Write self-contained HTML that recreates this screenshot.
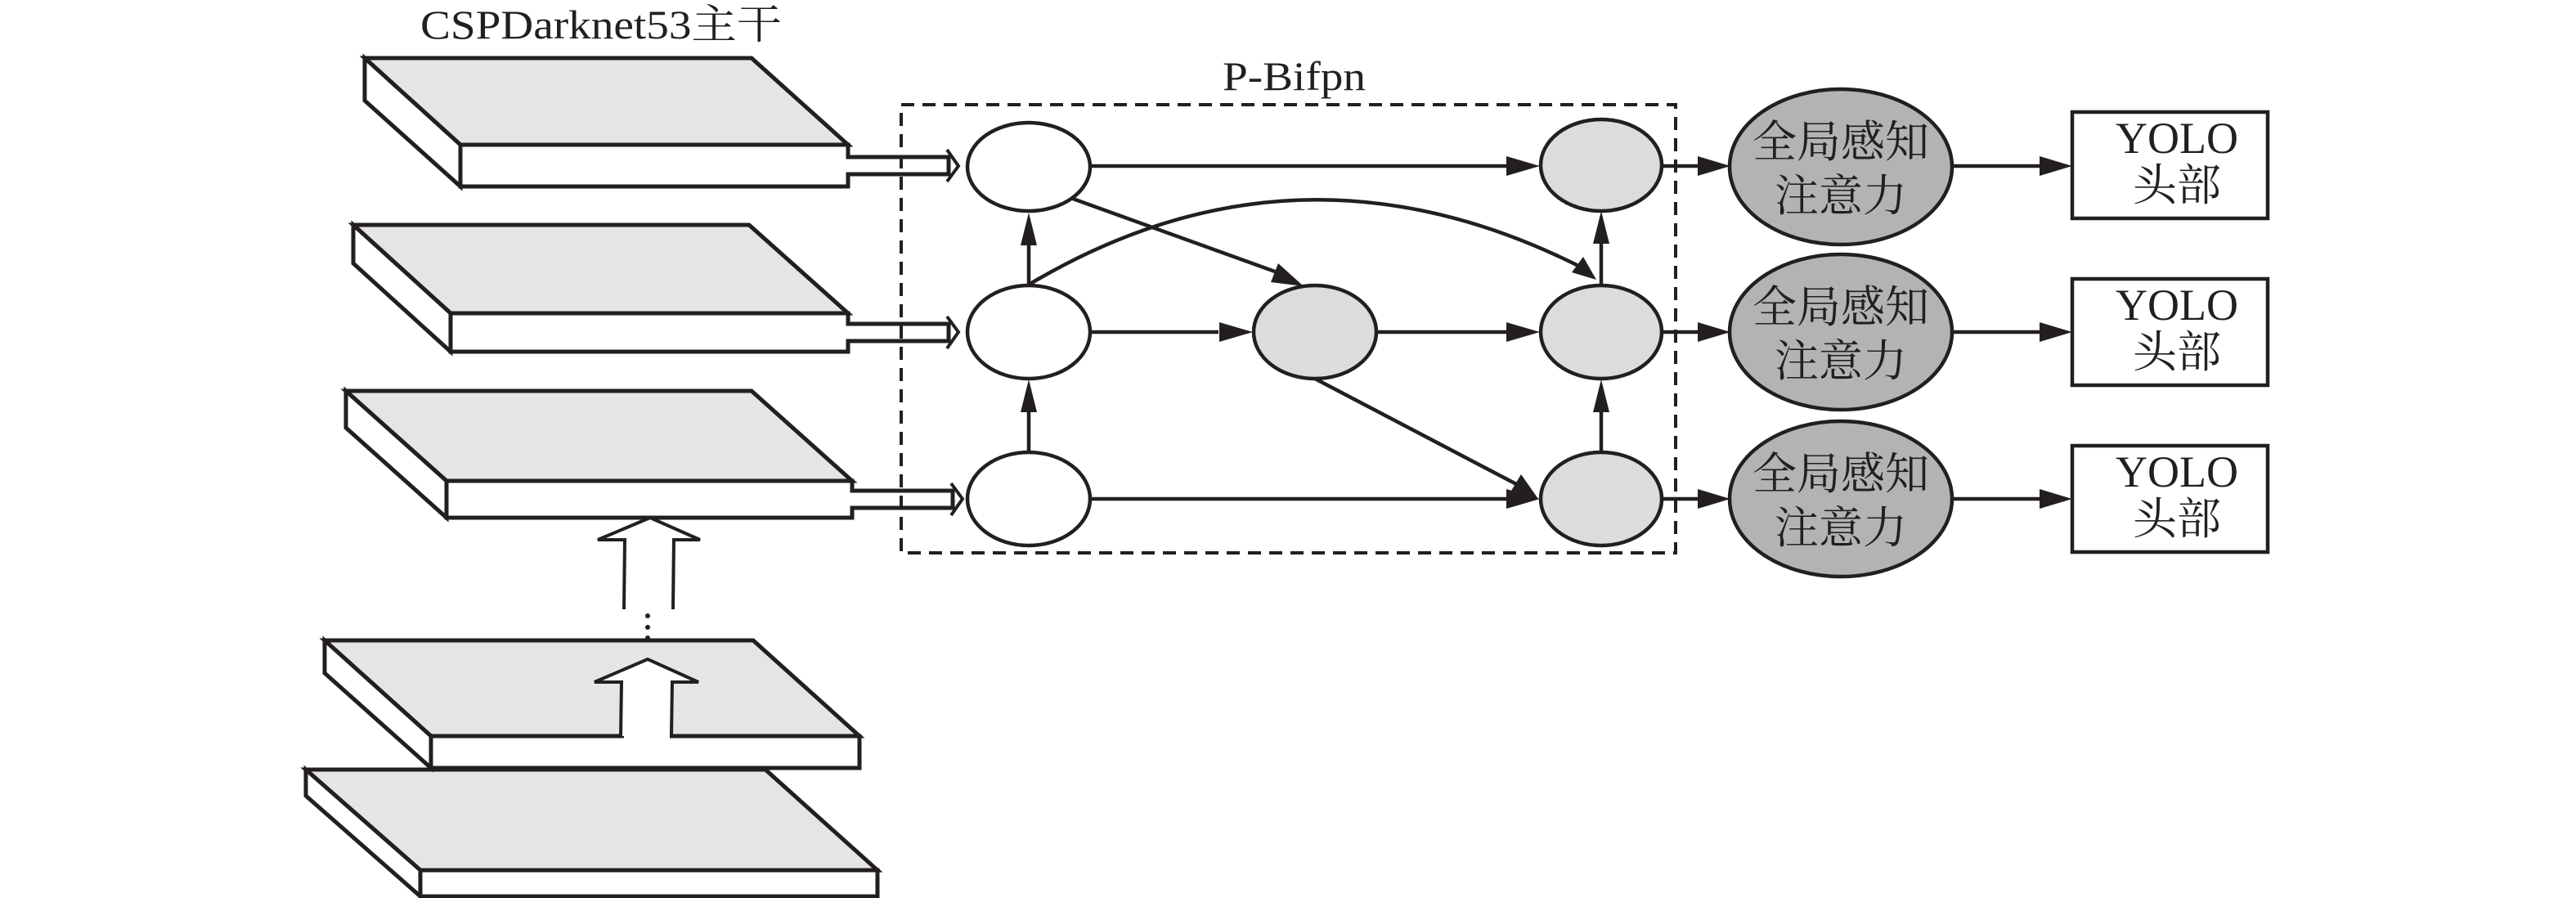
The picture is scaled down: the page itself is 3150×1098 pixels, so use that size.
<!DOCTYPE html>
<html><head><meta charset="utf-8"><style>html,body{margin:0;padding:0;background:#fff}svg{display:block}</style></head>
<body>
<svg width="3150" height="1098" viewBox="0 0 3150 1098" xmlns="http://www.w3.org/2000/svg">
<g stroke="#231f20" stroke-width="5" stroke-linejoin="miter" fill="none">
<!-- slab 1 -->
<polygon points="446,71 919,71 1037,177 563,177" fill="#e5e5e5"/>
<polygon points="446,71 563,177 563,228 446,123" fill="#fff"/>
<polygon points="563,177 1037,177 1037,192 1160,192 1160,213 1037,213 1037,228 563,228" fill="#fff"/>
<!-- slab 2 -->
<polygon points="432,275 916,275 1037,383 551,383" fill="#e5e5e5"/>
<polygon points="432,275 551,383 551,430 432,322" fill="#fff"/>
<polygon points="551,383 1037,383 1037,396 1160,396 1160,417 1037,417 1037,430 551,430" fill="#fff"/>
<!-- slab 3 -->
<polygon points="423,478 919,478 1042,588 546,588" fill="#e5e5e5"/>
<polygon points="423,478 546,588 546,633 423,523" fill="#fff"/>
<polygon points="546,588 1042,588 1042,600 1165,600 1165,621 1042,621 1042,633 546,633" fill="#fff"/>
<!-- slab 5 -->
<polygon points="374,941 936,941 1073,1064 514,1064" fill="#e5e5e5"/>
<polygon points="374,941 514,1064 514,1096 374,973" fill="#fff"/>
<rect x="514" y="1064" width="559" height="32" fill="#fff"/>
<!-- slab 4 -->
<polygon points="397,783 921,783 1051,900 527,900" fill="#e5e5e5"/>
<polygon points="397,783 527,900 527,939 397,823" fill="#fff"/>
<rect x="527" y="900" width="524" height="39" fill="#fff"/>
<!-- hollow arrow in slab 4 -->
<polyline points="759,900 760,834 727,834 792,806 854,834 822,834 821,900" fill="#fff" stroke-width="4"/>
<rect x="763" y="898" width="56" height="6" fill="#fff" stroke="none"/>
<!-- hollow arrow upper -->
<polyline points="763,745 764,660 731,660 795,633 856,660 824,660 823,745" fill="#fff" stroke-width="4"/>
</g>
<g fill="#231f20">
<circle cx="792" cy="753" r="3"/><circle cx="792" cy="767" r="3"/><circle cx="792" cy="780" r="3"/>
</g>
<g stroke="#231f20" stroke-width="4" fill="none">
<rect x="1102" y="128" width="947" height="548" stroke-dasharray="16,10" stroke-width="4"/>
<polyline points="1158,183 1172,203 1158,222"/>
<polyline points="1158,387 1172,406 1158,426"/>
<polyline points="1163,591 1177,610 1163,630"/>
</g>
<!-- nodes -->
<g stroke="#231f20" stroke-width="4.5">
<ellipse cx="1258" cy="204" rx="75" ry="54" fill="#fff"/>
<ellipse cx="1258" cy="406" rx="75" ry="57" fill="#fff"/>
<ellipse cx="1258" cy="610" rx="75" ry="57" fill="#fff"/>
<ellipse cx="1608" cy="406" rx="75" ry="57" fill="#dcdcdc"/>
<ellipse cx="1958" cy="202" rx="74" ry="56" fill="#dcdcdc"/>
<ellipse cx="1958" cy="406" rx="74" ry="57" fill="#dcdcdc"/>
<ellipse cx="1958" cy="610" rx="74" ry="57" fill="#dcdcdc"/>
<ellipse cx="2251" cy="204" rx="136" ry="95" fill="#b3b3b3"/>
<ellipse cx="2251" cy="406" rx="136" ry="95" fill="#b3b3b3"/>
<ellipse cx="2251" cy="610" rx="136" ry="95" fill="#b3b3b3"/>
<rect x="2534" y="137" width="239" height="130" fill="#fff"/>
<rect x="2534" y="341" width="239" height="130" fill="#fff"/>
<rect x="2534" y="545" width="239" height="130" fill="#fff"/>
</g>
<!-- connectors -->
<g stroke="#231f20" stroke-width="4.5" fill="none">
<line x1="1333" y1="203" x2="1850" y2="203"/>
<line x1="1333" y1="406" x2="1490" y2="406"/>
<line x1="1683" y1="406" x2="1850" y2="406"/>
<line x1="1333" y1="610" x2="1850" y2="610"/>
<line x1="1312" y1="243" x2="1570" y2="336"/>
<line x1="1608" y1="463" x2="1860" y2="595"/>
<path d="M1258,348 Q1590,150 1940,330"/>
<line x1="1258" y1="553" x2="1258" y2="500"/>
<line x1="1258" y1="349" x2="1258" y2="295"/>
<line x1="1958" y1="553" x2="1958" y2="500"/>
<line x1="1958" y1="349" x2="1958" y2="295"/>
<line x1="2032" y1="203" x2="2080" y2="203"/>
<line x1="2032" y1="406" x2="2080" y2="406"/>
<line x1="2032" y1="610" x2="2080" y2="610"/>
<line x1="2387" y1="203" x2="2500" y2="203"/>
<line x1="2387" y1="406" x2="2500" y2="406"/>
<line x1="2387" y1="610" x2="2500" y2="610"/>
</g>
<g fill="#231f20">
<polygon points="1883,203 1842,191 1842,215"/>
<polygon points="1532,406 1491,394 1491,418"/>
<polygon points="1883,406 1842,394 1842,418"/>
<polygon points="1883,610 1842,598 1842,622"/>
<polygon points="1594,350 1554,345 1563,322"/>
<polygon points="1881,610 1848,600 1860,580"/>
<polygon points="1952,342 1922,333 1936,314"/>
<polygon points="1258,464 1248,504 1268,504"/>
<polygon points="1258,260 1248,300 1268,300"/>
<polygon points="1958,464 1948,504 1968,504"/>
<polygon points="1958,258 1948,298 1968,298"/>
<polygon points="2116,203 2076,191 2076,215"/>
<polygon points="2116,406 2076,394 2076,418"/>
<polygon points="2116,610 2076,598 2076,622"/>
<polygon points="2534,203 2494,191 2494,215"/>
<polygon points="2534,406 2494,394 2494,418"/>
<polygon points="2534,610 2494,598 2494,622"/>
</g>
<!-- labels -->
<g font-family="Liberation Serif, Noto Serif CJK SC, serif" fill="#231f20">
<text x="514" y="47" font-size="50" textLength="442" lengthAdjust="spacingAndGlyphs">CSPDarknet53主干</text>
<text x="1495" y="110" font-size="50" textLength="175" lengthAdjust="spacingAndGlyphs">P-Bifpn</text>
<g font-size="54" text-anchor="middle">
<text x="2251" y="192">全局感知</text><text x="2251" y="258">注意力</text>
<text x="2251" y="394">全局感知</text><text x="2251" y="460">注意力</text>
<text x="2251" y="598">全局感知</text><text x="2251" y="664">注意力</text>
<text x="2662" y="187">YOLO</text><text x="2662" y="245">头部</text>
<text x="2662" y="391">YOLO</text><text x="2662" y="449">头部</text>
<text x="2662" y="595">YOLO</text><text x="2662" y="653">头部</text>
</g>
</g>
</svg>
</body></html>
